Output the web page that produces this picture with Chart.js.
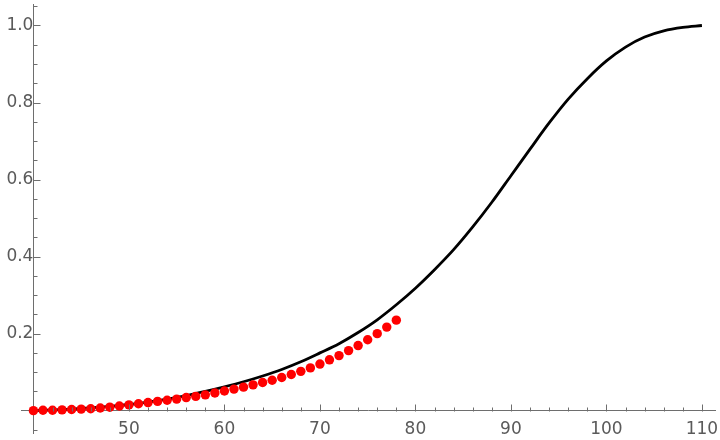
<!DOCTYPE html>
<html>
<head>
<meta charset="utf-8">
<script src="https://cdn.jsdelivr.net/npm/chart.js@4.4.1/dist/chart.umd.min.js"></script>
<style>
  html, body { margin: 0; padding: 0; background: #fff; }
  #chart { display: block; }
</style>
</head>
<body>
<canvas id="chart" width="720" height="440"></canvas>
<script>
const curveX = [40, 42, 44, 46, 48, 50, 52, 54, 56, 58, 60, 62, 64, 66, 68, 70, 72, 74,
  76, 78, 80, 82, 84, 86, 88, 90, 92, 94, 96, 98, 100, 102, 104, 106, 108, 110];
const curveY = [0.000, 0.002, 0.004, 0.007, 0.011, 0.016, 0.022, 0.030, 0.039, 0.050,
  0.062, 0.075, 0.090, 0.107, 0.127, 0.150, 0.174, 0.203, 0.236, 0.275, 0.318, 0.366,
  0.418, 0.477, 0.541, 0.610, 0.679, 0.747, 0.809, 0.862, 0.908, 0.944, 0.970, 0.986,
  0.995, 1.000];

// red points
const pointX = [40, 41, 42, 43, 44, 45, 46, 47, 48, 49, 50, 51, 52, 53, 54, 55, 56, 57, 58,
  59, 60, 61, 62, 63, 64, 65, 66, 67, 68, 69, 70, 71, 72, 73, 74, 75, 76, 77, 78];
const pointY = [0.000, 0.001, 0.001, 0.002, 0.003, 0.004, 0.005, 0.007, 0.009, 0.012,
  0.015, 0.018, 0.021, 0.024, 0.027, 0.030, 0.034, 0.037, 0.041, 0.046, 0.051, 0.056,
  0.061, 0.067, 0.073, 0.079, 0.086, 0.094, 0.102, 0.111, 0.121, 0.132, 0.143, 0.156,
  0.169, 0.184, 0.200, 0.217, 0.235];

const xTicks = [50, 60, 70, 80, 90, 100, 110];
const yTicks = [0.2, 0.4, 0.6, 0.8, 1.0];

const axisColor = '#6e6e6e';
const labelColor = '#5a5a5a';

// Mathematica style ticks pointing into the plot, with minor ones
const axisTicks = {
  id: 'axisTicks',
  afterDraw(chart) {
    const ctx = chart.ctx;
    const xs = chart.scales.x, ys = chart.scales.y;
    const ax = Math.round(xs.getPixelForValue(40)) + 0.5;
    const ay = Math.round(ys.getPixelForValue(0)) + 0.5;
    ctx.save();
    ctx.strokeStyle = axisColor;
    ctx.lineWidth = 1;
    ctx.beginPath();
    for (let i = 1; i <= 35; i++) {
      const v = 40 + i * 2;
      const px = Math.round(xs.getPixelForValue(v)) + 0.5;
      const len = v % 10 === 0 ? 7 : 4;
      ctx.moveTo(px, ay);
      ctx.lineTo(px, ay - len);
    }
    for (let i = -1; i <= 21; i++) {
      if (i === 0) continue;
      const v = i * 0.05;
      const py = Math.round(ys.getPixelForValue(v)) + 0.5;
      const len = i % 4 === 0 ? 7 : 4;
      ctx.moveTo(ax, py);
      ctx.lineTo(ax + len, py);
    }
    ctx.stroke();
    ctx.restore();
  }
};

// labels sit inside the plot, so don't let them shrink the chart area
function noPadding(scale) {
  scale.paddingTop = 0;
  scale.paddingBottom = 0;
  scale.paddingLeft = 0;
  scale.paddingRight = 0;
}

new Chart(document.getElementById('chart'), {
  type: 'scatter',
  data: {
    datasets: [{
      label: 'points',
      data: pointX.map((x, i) => ({ x: x, y: pointY[i] })),
      backgroundColor: '#ff0000',
      borderColor: '#ff0000',
      pointRadius: 4.7,
      pointBorderWidth: 0,
      showLine: false
    }, {
      label: 'curve',
      data: curveX.map((x, i) => ({ x: x, y: curveY[i] })),
      borderColor: '#000000',
      borderWidth: 2.8,
      pointRadius: 0,
      showLine: true,
      fill: false,
      cubicInterpolationMode: 'monotone'
    }]
  },
  options: {
    responsive: false,
    animation: false,
    events: [],
    layout: { padding: { left: 21, right: 3, top: 2, bottom: 7 } },
    plugins: {
      legend: { display: false },
      tooltip: { enabled: false }
    },
    scales: {
      x: {
        type: 'linear',
        position: { y: 0 },
        min: 38.7,
        max: 111.4,
        afterBuildTicks: (scale) => { scale.ticks = xTicks.map(v => ({ value: v })); },
        afterFit: noPadding,
        grid: { display: false, drawTicks: false },
        border: { display: true, color: axisColor, width: 1 },
        ticks: {
          color: labelColor,
          padding: 9,
          maxRotation: 0,
          autoSkip: false,
          font: { family: 'DejaVu Sans', size: 17 },
          callback: (v) => String(v)
        }
      },
      y: {
        type: 'linear',
        position: { x: 40 },
        min: -0.058,
        max: 1.054,
        afterBuildTicks: (scale) => { scale.ticks = yTicks.map(v => ({ value: v })); },
        afterFit: noPadding,
        grid: { display: false, drawTicks: false },
        border: { display: true, color: axisColor, width: 1 },
        ticks: {
          color: labelColor,
          padding: 7,
          autoSkip: false,
          font: { family: 'DejaVu Sans', size: 17 },
          callback: (v) => Number(v).toFixed(1)
        }
      }
    }
  },
  plugins: [axisTicks]
});
</script>
</body>
</html>
